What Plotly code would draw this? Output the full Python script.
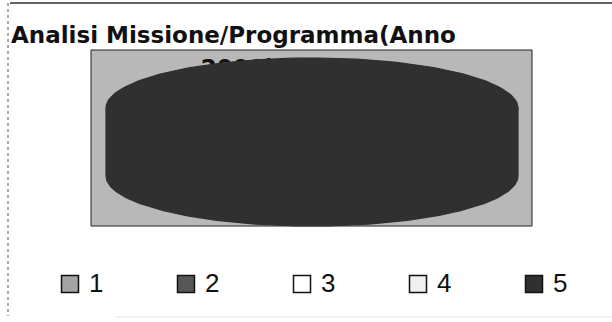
import numpy as np
import plotly.graph_objects as go

# ---- data ----
series_labels = ["1", "2", "3", "4", "5"]
series_values = [0, 0, 0, 0, 100]
series_colors = ["#a4a4a4", "#575757", "#ffffff", "#f0f0f0", "#303030"]
title_line1 = "Analisi Missione/Programma(Anno"
title_line2 = "2009)"

W, H = 612, 322

# 3-D pie geometry, in canvas pixel units (axes span the whole canvas)
CX, CY, RX, RY, DEPTH = 312, 108, 206, 50, 68
PLOT_BOX = (91, 50, 532, 226)  # x0, y0, x1, y1 of the grey plot area

# key row under the pie
KEY_X0, KEY_STEP, KEY_Y = 70, 116, 284


def ellipse_pts(a0, a1, cy, n=200):
    t = np.linspace(a0, a1, n)
    return CX + RX * np.cos(t), cy + RY * np.sin(t)


fig = go.Figure()

# second title line, mostly hidden behind the pie
fig.add_trace(go.Scatter(
    x=[238], y=[70], mode="text", text=[title_line2],
    textfont=dict(family="DejaVu Sans", size=23, color="#111111", weight="bold"),
    showlegend=False, hoverinfo="skip",
))

total = float(sum(series_values))
starts, ends = [], []
acc = 0.0
for v in series_values:
    a0 = -np.pi / 2 + 2 * np.pi * acc / total
    acc += v
    a1 = -np.pi / 2 + 2 * np.pi * acc / total
    starts.append(a0)
    ends.append(a1)

# side walls (only the front half, 0..pi in screen coords, is visible)
for lab, v, c, a0, a1 in zip(series_labels, series_values, series_colors, starts, ends):
    if v <= 0:
        continue
    for off in (0.0, 2 * np.pi):
        lo, hi = max(a0, off), min(a1, off + np.pi)
        if hi <= lo:
            continue
        xt, yt = ellipse_pts(lo, hi, CY)
        xb, yb = ellipse_pts(lo, hi, CY + DEPTH)
        xs = np.concatenate([xt, xb[::-1], xt[:1]])
        ys = np.concatenate([yt, yb[::-1], yt[:1]])
        fig.add_trace(go.Scatter(
            x=xs, y=ys, mode="lines", fill="toself", fillcolor=c,
            line=dict(width=1.2, color=c), showlegend=False, hoverinfo="skip",
        ))

# top faces
for lab, v, c, a0, a1 in zip(series_labels, series_values, series_colors, starts, ends):
    if v <= 0:
        continue
    xa, ya = ellipse_pts(a0, a1, CY)
    xs = np.concatenate([[CX], xa, [CX]])
    ys = np.concatenate([[CY], ya, [CY]])
    fig.add_trace(go.Scatter(
        x=xs, y=ys, mode="lines", fill="toself", fillcolor=c,
        line=dict(width=1.2, color=c), showlegend=False,
        name=lab, hoverinfo="name",
    ))

# key: one swatch + label per series
for i, (lab, c) in enumerate(zip(series_labels, series_colors)):
    kx = KEY_X0 + i * KEY_STEP
    fig.add_trace(go.Scatter(
        x=[kx], y=[KEY_Y], mode="markers", name=lab, showlegend=False,
        marker=dict(symbol="square", size=17, color=c,
                    line=dict(color="#111111", width=1.5)),
        hoverinfo="name",
    ))
    fig.add_trace(go.Scatter(
        x=[kx + 19], y=[KEY_Y + 1], mode="text", text=[lab], textposition="middle right",
        textfont=dict(family="Liberation Sans Narrow, Arial Narrow, Liberation Sans",
                      size=26, color="#111111"),
        showlegend=False, hoverinfo="skip",
    ))

fig.update_layout(
    width=W, height=H,
    margin=dict(l=0, r=0, t=0, b=0),
    paper_bgcolor="white", plot_bgcolor="rgba(0,0,0,0)",
    xaxis=dict(range=[0, W], visible=False, fixedrange=True),
    yaxis=dict(range=[H, 0], visible=False, fixedrange=True),
    title=dict(
        text=title_line1, x=11 / W, xanchor="left", xref="paper",
        y=1 - 35 / H, yanchor="middle", yref="paper",
        font=dict(family="DejaVu Sans", size=23, color="#111111", weight="bold"),
    ),
    showlegend=False,
    shapes=[
        # grey plot area
        dict(type="rect", xref="x", yref="y", layer="below",
             x0=PLOT_BOX[0], y0=PLOT_BOX[1], x1=PLOT_BOX[2], y1=PLOT_BOX[3],
             fillcolor="#b8b8b8", line=dict(color="#222222", width=1)),
        # chart frame
        dict(type="line", xref="x", yref="y", x0=10, x1=W, y0=3, y1=3,
             line=dict(color="#333333", width=1.5)),
        dict(type="line", xref="x", yref="y", x0=8, x1=8, y0=3, y1=316,
             line=dict(color="#555555", width=1, dash="dot")),
        dict(type="line", xref="x", yref="y", x0=115, x1=W, y0=317, y1=317,
             line=dict(color="#e4e4e4", width=1)),
    ],
)

fig.write_html("out.html")
